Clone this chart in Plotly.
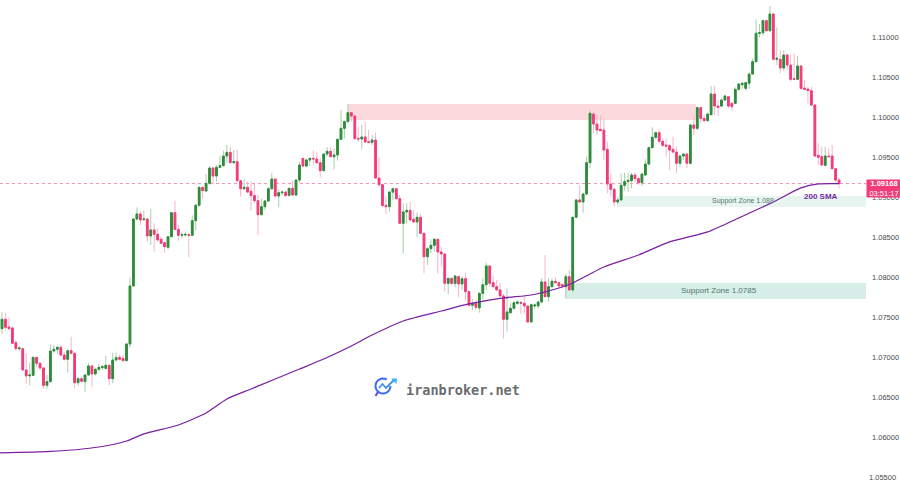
import math
import plotly.graph_objects as go

opens = [
1.07354,1.07471,1.07375,1.07363,1.07179,1.07104,1.07104,1.06838,1.06763,1.06771,
1.06996,1.06921,1.06863,1.06646,1.06692,1.07075,1.07096,1.07121,1.07025,1.06971,
1.07079,1.07046,1.06679,1.06729,1.06692,1.06775,1.06888,1.06788,1.06846,1.06867,
1.06858,1.06896,1.06729,1.06963,1.06996,1.06983,1.06954,1.07163,1.07888,1.08725,
1.08788,1.08717,1.08725,1.08513,1.08588,1.08533,1.08471,1.08429,1.08371,1.08504,
1.08804,1.08596,1.08521,1.08525,1.08529,1.08521,1.08704,1.08896,1.09121,1.09075,
1.09171,1.09362,1.09262,1.09371,1.09392,1.09512,1.09558,1.09429,1.09442,1.09204,
1.09104,1.09121,1.09071,1.09017,1.08954,1.08779,1.08879,1.08950,1.09104,1.09225,
1.09012,1.09054,1.09062,1.09021,1.09108,1.09025,1.09212,1.09483,1.09387,1.09462,
1.09483,1.09475,1.09429,1.09329,1.09537,1.09571,1.09504,1.09525,1.09721,1.09858,
1.09942,1.10054,1.10012,1.09733,1.09725,1.09750,1.09692,1.09683,1.09712,1.09237,
1.09154,1.08896,1.08879,1.09062,1.09104,1.08979,1.08671,1.08813,1.08833,1.08721,
1.08688,1.08746,1.08546,1.08254,1.08354,1.08396,1.08471,1.08313,1.08288,1.07921,
1.07983,1.07921,1.08004,1.07913,1.07979,1.07817,1.07646,1.07671,1.07613,1.07796,
1.07904,1.08138,1.07929,1.07879,1.07838,1.07763,1.07471,1.07554,1.07608,1.07671,
1.07683,1.07671,1.07638,1.07438,1.07638,1.07638,1.07688,1.07938,1.07754,1.07879,
1.07946,1.07929,1.07904,1.07879,1.08004,1.07838,1.08746,1.08963,1.08938,1.09037,
1.09429,1.10037,1.09912,1.09846,1.09837,1.09596,1.09162,1.09096,1.08938,1.08963,
1.09146,1.09192,1.09204,1.09275,1.09229,1.09179,1.09275,1.09412,1.09617,1.09746,
1.09804,1.09696,1.09650,1.09642,1.09596,1.09562,1.09421,1.09512,1.09537,1.09421,
1.09900,1.09858,1.10117,1.09983,1.09954,1.10029,1.10287,1.10137,1.10137,1.10212,
1.10254,1.10171,1.10171,1.10346,1.10404,1.10358,1.10421,1.10537,1.10692,1.11046,
1.11054,1.11204,1.11079,1.11287,1.10721,1.10721,1.10612,1.10775,1.10650,1.10479,
1.10471,1.10637,1.10362,1.10350,1.10329,1.10150,1.09521,1.09504,1.09396,1.09512,
1.09512,1.09354,1.09212]
closes = [
1.07471,1.07371,1.07354,1.07171,1.07104,1.07113,1.06838,1.06763,1.06775,1.06996,
1.06921,1.06863,1.06646,1.06692,1.07075,1.07096,1.07121,1.07025,1.06971,1.07079,
1.07046,1.06679,1.06729,1.06696,1.06775,1.06888,1.06788,1.06846,1.06871,1.06879,
1.06896,1.06729,1.06963,1.06992,1.06971,1.06954,1.07163,1.07888,1.08725,1.08788,
1.08713,1.08725,1.08513,1.08588,1.08533,1.08463,1.08421,1.08379,1.08504,1.08804,
1.08596,1.08521,1.08529,1.08533,1.08521,1.08704,1.08896,1.09121,1.09079,1.09171,
1.09362,1.09262,1.09371,1.09392,1.09512,1.09558,1.09429,1.09442,1.09204,1.09104,
1.09121,1.09062,1.09017,1.08954,1.08779,1.08879,1.08950,1.09104,1.09225,1.09012,
1.09054,1.09062,1.09017,1.09108,1.09025,1.09212,1.09400,1.09387,1.09462,1.09483,
1.09475,1.09429,1.09329,1.09537,1.09571,1.09504,1.09525,1.09721,1.09858,1.09942,
1.10054,1.10012,1.09729,1.09725,1.09750,1.09687,1.09683,1.09712,1.09237,1.09154,
1.08892,1.08879,1.09062,1.09104,1.08979,1.08671,1.08813,1.08833,1.08713,1.08688,
1.08746,1.08546,1.08254,1.08354,1.08396,1.08471,1.08313,1.08288,1.07921,1.07983,
1.07921,1.08013,1.07913,1.07979,1.07817,1.07646,1.07671,1.07621,1.07796,1.07904,
1.08138,1.07921,1.07879,1.07838,1.07763,1.07471,1.07563,1.07608,1.07679,1.07688,
1.07671,1.07638,1.07438,1.07654,1.07650,1.07688,1.07938,1.07754,1.07879,1.07946,
1.07929,1.07888,1.07888,1.08004,1.07838,1.08746,1.08963,1.08938,1.09037,1.09429,
1.10046,1.09912,1.09837,1.09829,1.09587,1.09162,1.09096,1.08938,1.08963,1.09146,
1.09192,1.09208,1.09275,1.09229,1.09179,1.09287,1.09412,1.09617,1.09746,1.09804,
1.09696,1.09646,1.09637,1.09587,1.09562,1.09421,1.09512,1.09537,1.09421,1.09900,
1.09858,1.10117,1.09983,1.09954,1.10037,1.10287,1.10137,1.10121,1.10212,1.10262,
1.10137,1.10129,1.10346,1.10412,1.10421,1.10429,1.10537,1.10692,1.11046,1.11054,
1.11204,1.11079,1.11287,1.10721,1.10733,1.10612,1.10775,1.10650,1.10471,1.10471,
1.10637,1.10358,1.10346,1.10329,1.10150,1.09512,1.09496,1.09400,1.09512,1.09504,
1.09354,1.09212,1.09168]
highs = [
1.07563,1.07554,1.07496,1.07379,1.07213,1.07138,1.07113,1.07046,1.06929,1.07004,
1.07004,1.06938,1.06871,1.06775,1.07154,1.07150,1.07138,1.07150,1.07067,1.07088,
1.07254,1.07054,1.06746,1.06754,1.06796,1.06921,1.06900,1.06871,1.06913,1.06900,
1.07013,1.06904,1.07054,1.07054,1.07029,1.07021,1.07171,1.07996,1.08738,1.08871,
1.08817,1.08829,1.08733,1.08854,1.08671,1.08608,1.08504,1.08442,1.08513,1.08813,
1.08954,1.08650,1.08567,1.08567,1.08546,1.08771,1.08913,1.09129,1.09129,1.09287,
1.09387,1.09379,1.09400,1.09512,1.09579,1.09650,1.09629,1.09587,1.09587,1.09212,
1.09221,1.09192,1.09192,1.09171,1.09025,1.08983,1.08963,1.09121,1.09304,1.09233,
1.09096,1.09079,1.09079,1.09121,1.09204,1.09221,1.09442,1.09492,1.09483,1.09492,
1.09587,1.09567,1.09483,1.09546,1.09621,1.09621,1.09596,1.09733,1.10087,1.09954,
1.10162,1.10067,1.10025,1.09879,1.09900,1.09942,1.09837,1.09775,1.09804,1.09496,
1.09162,1.09004,1.09071,1.09112,1.09112,1.09029,1.08921,1.08921,1.08942,1.08838,
1.08804,1.08788,1.08554,1.08371,1.08471,1.08483,1.08479,1.08379,1.08296,1.07992,
1.07992,1.08021,1.08021,1.08004,1.08054,1.07829,1.07721,1.07713,1.07804,1.07983,
1.08179,1.08146,1.08013,1.07963,1.07929,1.07788,1.07854,1.07671,1.07696,1.07704,
1.07696,1.07775,1.07650,1.07671,1.07671,1.07704,1.07983,1.08275,1.07983,1.07983,
1.07996,1.07946,1.07921,1.08038,1.08088,1.08754,1.08971,1.09150,1.09054,1.09504,
1.10087,1.10067,1.10025,1.10025,1.09971,1.09692,1.09287,1.09108,1.08983,1.09296,
1.09304,1.09296,1.09304,1.09296,1.09254,1.09296,1.09471,1.09629,1.09871,1.09817,
1.09846,1.09733,1.09733,1.09662,1.09754,1.09629,1.09525,1.09546,1.09546,1.09912,
1.10025,1.10129,1.10129,1.10025,1.10054,1.10387,1.10387,1.10212,1.10233,1.10279,
1.10262,1.10192,1.10371,1.10421,1.10437,1.10442,1.10554,1.10733,1.11221,1.11162,
1.11212,1.11212,1.11387,1.11304,1.11121,1.10837,1.10837,1.10787,1.10775,1.10796,
1.10762,1.10646,1.10462,1.10379,1.10379,1.10162,1.09671,1.09629,1.09629,1.09608,
1.09650,1.09362,1.09233]
lows = [
1.07288,1.07338,1.07338,1.07163,1.07079,1.07071,1.06829,1.06663,1.06646,1.06763,
1.06871,1.06838,1.06604,1.06604,1.06683,1.07054,1.07038,1.07013,1.06954,1.06804,
1.07038,1.06608,1.06638,1.06679,1.06567,1.06763,1.06629,1.06771,1.06829,1.06838,
1.06846,1.06650,1.06671,1.06946,1.06954,1.06942,1.06946,1.07121,1.07879,1.08704,
1.08650,1.08704,1.08442,1.08400,1.08317,1.08442,1.08413,1.08304,1.08346,1.08496,
1.08588,1.08454,1.08483,1.08504,1.08246,1.08513,1.08588,1.08879,1.08983,1.09067,
1.09150,1.09171,1.09192,1.09358,1.09379,1.09421,1.09421,1.09412,1.09192,1.09004,
1.09087,1.09046,1.08829,1.08921,1.08525,1.08771,1.08838,1.08942,1.09096,1.08983,
1.08871,1.09025,1.09004,1.09004,1.09012,1.09012,1.09179,1.09371,1.09371,1.09387,
1.09400,1.09412,1.09246,1.09321,1.09512,1.09496,1.09346,1.09454,1.09712,1.09733,
1.09929,1.09942,1.09712,1.09692,1.09596,1.09679,1.09671,1.09650,1.09229,1.09129,
1.08879,1.08788,1.08817,1.08963,1.08971,1.08663,1.08296,1.08671,1.08704,1.08671,
1.08496,1.08538,1.08046,1.08150,1.08296,1.08317,1.08046,1.08129,1.07817,1.07788,
1.07900,1.07871,1.07746,1.07838,1.07704,1.07629,1.07588,1.07588,1.07554,1.07721,
1.07838,1.07879,1.07871,1.07829,1.07754,1.07233,1.07317,1.07538,1.07588,1.07650,
1.07538,1.07538,1.07421,1.07429,1.07608,1.07608,1.07671,1.07746,1.07692,1.07871,
1.07921,1.07871,1.07854,1.07733,1.07829,1.07804,1.08738,1.08929,1.08804,1.09021,
1.09358,1.09796,1.09775,1.09829,1.09462,1.09046,1.09004,1.08879,1.08912,1.08954,
1.09079,1.09067,1.09108,1.09179,1.09150,1.09137,1.09262,1.09396,1.09604,1.09721,
1.09679,1.09629,1.09504,1.09337,1.09546,1.09296,1.09379,1.09462,1.09358,1.09412,
1.09775,1.09837,1.09929,1.09942,1.09942,1.10021,1.10025,1.10012,1.10121,1.10204,
1.10108,1.10079,1.10162,1.10329,1.10346,1.10329,1.10358,1.10525,1.10679,1.10996,
1.11025,1.11067,1.11067,1.10712,1.10650,1.10546,1.10579,1.10587,1.10442,1.10462,
1.10462,1.10337,1.10337,1.10171,1.10137,1.09504,1.09400,1.09392,1.09387,1.09496,
1.09346,1.09179,1.09108]

sma_index = [-1,14,28,36,41,51,59,65,72,86,93,101,107,116,127,135,145,153,160,165,170,174,184,193,204,213,223,231,236,242]
sma_values = [1.05800,1.05819,1.05875,1.05950,1.06038,1.06150,1.06300,1.06475,1.06600,1.06850,
              1.06975,1.07138,1.07275,1.07450,1.07575,1.07663,1.07738,1.07775,1.07850,1.07925,
              1.08038,1.08125,1.08275,1.08438,1.08563,1.08738,1.08938,1.09113,1.09163,1.09166]

tick_values = [1.06,1.065,1.07,1.075,1.08,1.085,1.09,1.095,1.10,1.105,1.11]
last_price = 1.09168
countdown = "03:51:17"

GREEN, PINK = "#2e8b3c", "#f23b78"
WICK_G, WICK_P = "#a5d2a9", "#f9b4cb"
W, H, RM = 900, 480, 34
PX = 3.459
x = list(range(len(opens)))
body_hi = [max(a, b) for a, b in zip(opens, closes)]
body_lo = [min(a, b) for a, b in zip(opens, closes)]

fig = go.Figure()
fig.add_trace(go.Candlestick(x=x, open=opens, high=highs, low=lows, close=closes, whiskerwidth=0,
    increasing=dict(line=dict(color=WICK_G, width=1), fillcolor=WICK_G),
    decreasing=dict(line=dict(color=WICK_P, width=1), fillcolor=WICK_P),
    hoverinfo="skip", showlegend=False))
fig.add_trace(go.Candlestick(x=x, open=opens, high=body_hi, low=body_lo, close=closes, whiskerwidth=0,
    increasing=dict(line=dict(color=GREEN, width=1), fillcolor=GREEN),
    decreasing=dict(line=dict(color=PINK, width=1), fillcolor=PINK),
    hoverinfo="skip", showlegend=False))
fig.add_trace(go.Scatter(x=sma_index, y=sma_values, mode="lines",
    line=dict(color="#7b1fa2", width=1.25, shape="spline", smoothing=0.6),
    hoverinfo="skip", showlegend=False))

xmin = -2 / PX
xmax = xmin + (W - RM) / PX
ymax = 1.09 + 197 / 8000
ymin = 1.09 - 283 / 8000

def zone(x0, x1, y0, y1, color):
    fig.add_shape(type="rect", xref="x", yref="y", x0=x0, x1=x1, y0=y0, y1=y1,
                  fillcolor=color, line_width=0, layer="below")

zone(100, 200.6, 1.09963, 1.10163, "#fcd9dd")
zone(177.8, xmax, 1.08875, 1.09013, "#e7f5f0")
zone(163, xmax, 1.07725, 1.07925, "#d6eee7")
fig.add_shape(type="line", xref="paper", yref="y", x0=0, x1=1, y0=last_price, y1=last_price,
              line=dict(color="#f48fb1", width=1, dash="dot"), layer="below")

def pxx(v): return v / (W - RM)
def pxy(v): return 1 - v / H

def note(text, px, py, size, color, family="Liberation Sans"):
    fig.add_annotation(text=text, xref="paper", yref="paper", x=pxx(px), y=pxy(py), showarrow=False,
                       xanchor="center", yanchor="middle", font=dict(size=size, color=color, family=family))

note("Support Zone 1.088", 743, 201, 7, "#54756e")
note("Support Zone 1.0785", 719, 290, 8, "#54756e")
note("<b>200 SMA</b>", 821, 196, 8, "#6f2aa3")
note("<b>iranbroker.net</b>", 463, 389.5, 13.5, "#6a6c70", "DejaVu Sans Mono")
note("1.11500", 883, -3, 7.5, "#4a4a4a")
note("1.05500", 883, 477, 7.5, "#4a4a4a")

# price tag on the axis
fig.add_annotation(text="<b>1.09168</b><br>" + countdown, xref="paper", yref="paper",
                   x=pxx(866), y=pxy(188.5), xanchor="left", yanchor="middle", showarrow=False,
                   width=34, height=17, bgcolor=PINK, borderpad=0, align="center",
                   font=dict(size=7.5, color="#ffffff", family="Liberation Sans"))

# logo icon
def path(points, closed=False):
    return "M " + " L ".join(f"{pxx(a):.5f},{pxy(b):.5f}" for a, b in points) + (" Z" if closed else "")

ring = [(383 + 7.5 * math.cos(math.radians(t)), 386 + 7.5 * math.sin(math.radians(t)))
        for t in range(-60, -375, -15)]
fig.add_shape(type="path", xref="paper", yref="paper", path=path(ring), line=dict(color="#3f6cf0", width=2))
fig.add_shape(type="path", xref="paper", yref="paper", path=path([(378, 392), (375.5, 396)]),
              line=dict(color="#5a49ef", width=2))
fig.add_shape(type="path", xref="paper", yref="paper", path=path([(379, 388), (382.5, 384), (386, 388), (394, 380)]),
              line=dict(color="#3f8cf2", width=1.8))
fig.add_shape(type="path", xref="paper", yref="paper", path=path([(391, 378.5), (397, 378.5), (396.5, 384)], True),
              fillcolor="#38b6f4", line_width=0)

fig.update_layout(width=W, height=H, margin=dict(l=0, r=RM, t=0, b=0),
                  paper_bgcolor="white", plot_bgcolor="white", showlegend=False,
                  font=dict(family="Liberation Sans"))
fig.update_xaxes(range=[xmin, xmax], visible=False, rangeslider_visible=False)
fig.update_yaxes(range=[ymin, ymax], side="right", tickvals=tick_values, tickformat=".5f",
                 showgrid=False, zeroline=False, showline=False, ticks="", ticklabelstandoff=5,
                 tickfont=dict(size=7.5, color="#4a4a4a", family="Liberation Sans"))
fig.write_html("out.html", config={"displayModeBar": False},
               post_script="document.body.style.margin='0';document.documentElement.style.overflow='hidden';")
